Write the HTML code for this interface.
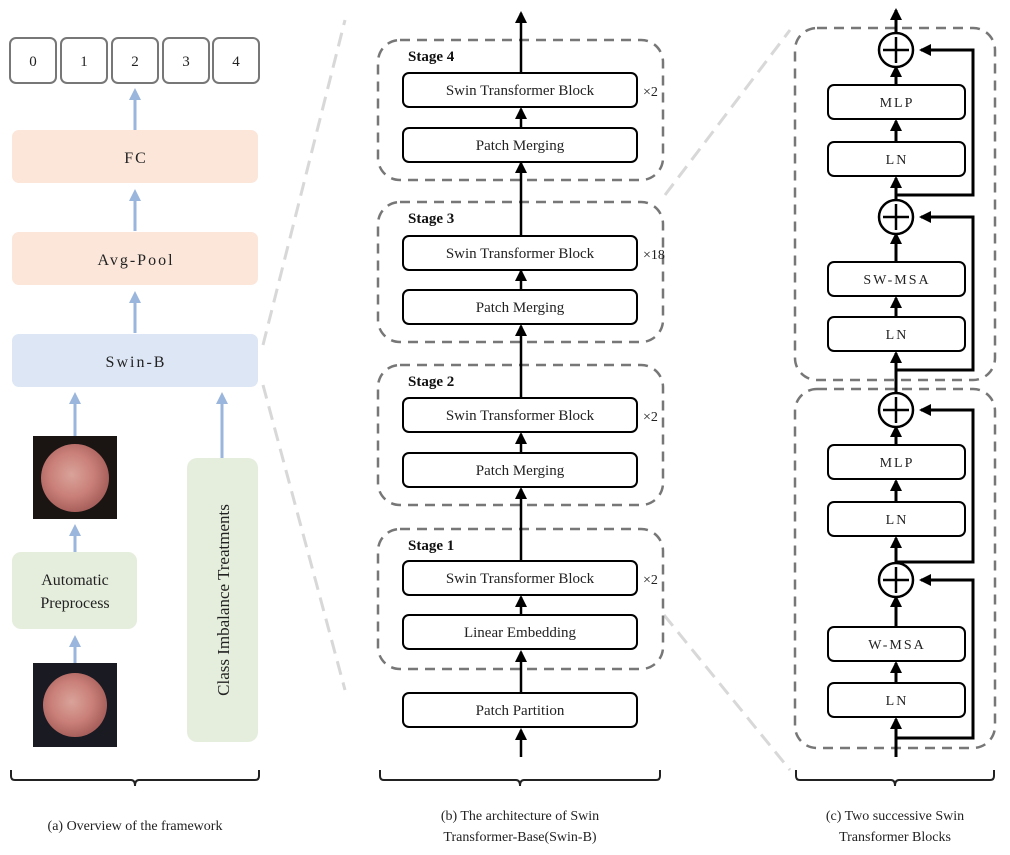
<!DOCTYPE html>
<html><head><meta charset="utf-8"><style>
html,body{margin:0;padding:0;background:#fff;}
svg{display:block;font-family:"Liberation Serif",serif;}
</style></head><body>
<svg width="1010" height="855" viewBox="0 0 1010 855" xmlns="http://www.w3.org/2000/svg">
<defs>
<marker id="ab" markerWidth="12" markerHeight="12" refX="6" refY="6" orient="auto" markerUnits="userSpaceOnUse"><path d="M0,0 L12,6 L0,12 z" fill="#9bb6dc"/></marker>
<marker id="ak" markerWidth="12" markerHeight="12" refX="10" refY="6" orient="auto" markerUnits="userSpaceOnUse"><path d="M0,0 L12,6 L0,12 z" fill="#000"/></marker>
<radialGradient id="ear" cx="45%" cy="45%" r="55%"><stop offset="0" stop-color="#d9a39a"/><stop offset="0.6" stop-color="#c97f78"/><stop offset="1" stop-color="#a8605c"/></radialGradient>
</defs>

<g stroke="#d8d8d8" stroke-width="3" stroke-dasharray="14,8" fill="none">
<line x1="263" y1="345" x2="345" y2="20"/>
<line x1="263" y1="385" x2="345" y2="690"/>
<line x1="664" y1="615" x2="790" y2="770"/>
<line x1="665" y1="195" x2="790" y2="30"/>
</g>

<g fill="#fff" stroke="#777" stroke-width="2">
<rect x="10" y="38" width="46" height="45" rx="6"/>
<rect x="61" y="38" width="46" height="45" rx="6"/>
<rect x="112" y="38" width="46" height="45" rx="6"/>
<rect x="163" y="38" width="46" height="45" rx="6"/>
<rect x="213" y="38" width="46" height="45" rx="6"/>
</g>
<g font-size="15" text-anchor="middle" fill="#222">
<text x="33" y="66">0</text><text x="84" y="66">1</text><text x="135" y="66">2</text><text x="186" y="66">3</text><text x="236" y="66">4</text>
</g>
<rect x="12" y="130" width="246" height="53" rx="7" fill="#fbe6d9"/>
<rect x="12" y="232" width="246" height="53" rx="7" fill="#fbe6d9"/>
<rect x="12" y="334" width="246" height="53" rx="7" fill="#dde6f5"/>
<g font-size="16" text-anchor="middle" fill="#222" letter-spacing="2">
<text x="136" y="163">FC</text><text x="136" y="265">Avg-Pool</text><text x="136" y="367">Swin-B</text>
</g>
<g stroke="#9bb6dc" stroke-width="3" marker-end="url(#ab)">
<line x1="135" y1="130" x2="135" y2="94"/>
<line x1="135" y1="231" x2="135" y2="195"/>
<line x1="135" y1="333" x2="135" y2="297"/>
<line x1="75" y1="436" x2="75" y2="398"/>
<line x1="222" y1="458" x2="222" y2="398"/>
<line x1="75" y1="552" x2="75" y2="530"/>
<line x1="75" y1="663" x2="75" y2="641"/>
</g>
<rect x="33" y="436" width="84" height="83" fill="#1a1412"/>
<circle cx="75" cy="478" r="34" fill="url(#ear)"/>
<rect x="12" y="552" width="125" height="77" rx="9" fill="#e5eedd"/>
<text x="75" y="585" font-size="16" text-anchor="middle" fill="#222">Automatic</text>
<text x="75" y="608" font-size="16" text-anchor="middle" fill="#222">Preprocess</text>
<rect x="33" y="663" width="84" height="84" fill="#1a1a22"/>
<circle cx="75" cy="705" r="32" fill="url(#ear)"/>
<rect x="187" y="458" width="71" height="284" rx="10" fill="#e5eedd"/>
<text transform="translate(229,600) rotate(-90)" font-size="17" text-anchor="middle" fill="#222">Class Imbalance Treatments</text>

<g stroke="#222" stroke-width="2" fill="none">
<path d="M11,770 v6 q0,4 4,4 h116 q4,0 4,6 q0,-6 4,-6 h116 q4,0 4,-4 v-6"/>
<path d="M380,770 v6 q0,4 4,4 h132 q4,0 4,6 q0,-6 4,-6 h132 q4,0 4,-4 v-6"/>
<path d="M796,770 v6 q0,4 4,4 h91 q4,0 4,6 q0,-6 4,-6 h91 q4,0 4,-4 v-6"/>
</g>
<g font-size="14" text-anchor="middle" fill="#222">
<text x="135" y="830">(a) Overview of the framework</text>
<text x="520" y="820">(b) The architecture of Swin</text>
<text x="520" y="841">Transformer-Base(Swin-B)</text>
<text x="895" y="820">(c) Two successive Swin</text>
<text x="895" y="841">Transformer Blocks</text>
</g>

<g fill="none" stroke="#777" stroke-width="2.5" stroke-dasharray="10,7">
<rect x="378" y="40" width="285" height="140" rx="22"/>
<rect x="378" y="202" width="285" height="140" rx="22"/>
<rect x="378" y="365" width="285" height="140" rx="22"/>
<rect x="378" y="529" width="285" height="140" rx="22"/>
</g>
<g stroke="#000" stroke-width="2.5" marker-end="url(#ak)">
<line x1="521" y1="757" x2="521" y2="730"/>
<line x1="521" y1="692" x2="521" y2="652"/>
<line x1="521" y1="614" x2="521" y2="597"/>
<line x1="521" y1="560" x2="521" y2="489"/>
<line x1="521" y1="452" x2="521" y2="434"/>
<line x1="521" y1="397" x2="521" y2="326"/>
<line x1="521" y1="289" x2="521" y2="271"/>
<line x1="521" y1="235" x2="521" y2="163"/>
<line x1="521" y1="127" x2="521" y2="109"/>
<line x1="521" y1="72" x2="521" y2="13"/>
</g>
<g fill="#fff" stroke="#000" stroke-width="2">
<rect x="403" y="73" width="234" height="34" rx="6"/>
<rect x="403" y="128" width="234" height="34" rx="6"/>
<rect x="403" y="236" width="234" height="34" rx="6"/>
<rect x="403" y="290" width="234" height="34" rx="6"/>
<rect x="403" y="398" width="234" height="34" rx="6"/>
<rect x="403" y="453" width="234" height="34" rx="6"/>
<rect x="403" y="561" width="234" height="34" rx="6"/>
<rect x="403" y="615" width="234" height="34" rx="6"/>
<rect x="403" y="693" width="234" height="34" rx="6"/>
</g>
<g font-size="15" font-weight="bold" fill="#111">
<text x="408" y="61">Stage 4</text><text x="408" y="223">Stage 3</text><text x="408" y="386">Stage 2</text><text x="408" y="550">Stage 1</text>
</g>
<g font-size="15" text-anchor="middle" fill="#222">
<text x="520" y="95">Swin Transformer Block</text>
<text x="520" y="150">Patch Merging</text>
<text x="520" y="258">Swin Transformer Block</text>
<text x="520" y="312">Patch Merging</text>
<text x="520" y="420">Swin Transformer Block</text>
<text x="520" y="475">Patch Merging</text>
<text x="520" y="583">Swin Transformer Block</text>
<text x="520" y="637">Linear Embedding</text>
<text x="520" y="715">Patch Partition</text>
</g>
<g font-size="14" fill="#222">
<text x="643" y="96">×2</text><text x="643" y="259">×18</text><text x="643" y="421">×2</text><text x="643" y="584">×2</text>
</g>

<g fill="none" stroke="#777" stroke-width="2.5" stroke-dasharray="10,7">
<rect x="795" y="28" width="200" height="352" rx="22"/>
<rect x="795" y="389" width="200" height="359" rx="22"/>
</g>
<g stroke="#000" stroke-width="3" fill="none">
<polyline points="896,195 973,195 973,50 921,50" marker-end="url(#ak)"/>
<polyline points="896,370 973,370 973,217 921,217" marker-end="url(#ak)"/>
<polyline points="896,562 973,562 973,410 921,410" marker-end="url(#ak)"/>
<polyline points="896,738 973,738 973,580 921,580" marker-end="url(#ak)"/>
</g>
<g stroke="#000" stroke-width="3" marker-end="url(#ak)">
<line x1="896" y1="34" x2="896" y2="10"/>
<line x1="896" y1="84" x2="896" y2="67"/>
<line x1="896" y1="141" x2="896" y2="121"/>
<line x1="896" y1="201" x2="896" y2="178"/>
<line x1="896" y1="261" x2="896" y2="234"/>
<line x1="896" y1="316" x2="896" y2="298"/>
<line x1="896" y1="394" x2="896" y2="353"/>
<line x1="896" y1="444" x2="896" y2="427"/>
<line x1="896" y1="501" x2="896" y2="481"/>
<line x1="896" y1="564" x2="896" y2="538"/>
<line x1="896" y1="626" x2="896" y2="597"/>
<line x1="896" y1="682" x2="896" y2="663"/>
<line x1="896" y1="757" x2="896" y2="719"/>
</g>
<g fill="#fff" stroke="#000" stroke-width="2.5">
<circle cx="896" cy="50" r="17"/><circle cx="896" cy="217" r="17"/><circle cx="896" cy="410" r="17"/><circle cx="896" cy="580" r="17"/>
</g>
<g stroke="#000" stroke-width="2.5">
<path d="M883,50 h26 M896,37 v26"/><path d="M883,217 h26 M896,204 v26"/><path d="M883,410 h26 M896,397 v26"/><path d="M883,580 h26 M896,567 v26"/>
</g>
<g fill="#fff" stroke="#000" stroke-width="2">
<rect x="828" y="85" width="137" height="34" rx="6"/>
<rect x="828" y="142" width="137" height="34" rx="6"/>
<rect x="828" y="262" width="137" height="34" rx="6"/>
<rect x="828" y="317" width="137" height="34" rx="6"/>
<rect x="828" y="445" width="137" height="34" rx="6"/>
<rect x="828" y="502" width="137" height="34" rx="6"/>
<rect x="828" y="627" width="137" height="34" rx="6"/>
<rect x="828" y="683" width="137" height="34" rx="6"/>
</g>
<g font-size="14" text-anchor="middle" fill="#222" letter-spacing="2">
<text x="897" y="107">MLP</text><text x="897" y="164">LN</text><text x="897" y="284">SW-MSA</text><text x="897" y="339">LN</text>
<text x="897" y="467">MLP</text><text x="897" y="524">LN</text><text x="897" y="649">W-MSA</text><text x="897" y="705">LN</text>
</g>
</svg>
</body></html>
